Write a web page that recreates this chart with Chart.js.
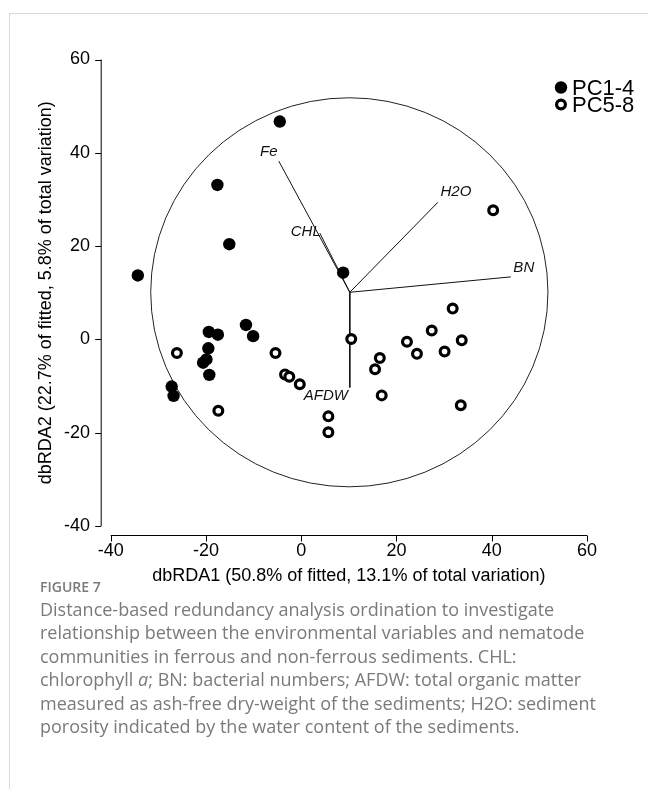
<!DOCTYPE html>
<html>
<head>
<meta charset="utf-8">
<script src="https://cdn.jsdelivr.net/npm/chart.js@4.4.1/dist/chart.umd.min.js"></script>
<style>
  html, body { margin: 0; padding: 0; background: #fff; }
  body { width: 648px; height: 789px; position: relative; overflow: hidden; }
  #frame { position: absolute; left: 9px; top: 13px; right: 0; bottom: 0;
           border-top: 1px solid #d9d9d9; border-left: 1px solid #d9d9d9; }
  #grafico { position: absolute; left: 0; top: 0; }
  #caption { position: absolute; left: 40px; top: 578px; width: 605px;
             font-family: "Open Sans", sans-serif; color: #7a7a7a; }
  #caption .fig { font-size: 14px; line-height: 18px; font-weight: 600; }
  #caption .txt { font-size: 18px; line-height: 23.4px; margin-top: 2px; white-space: nowrap; }
</style>
</head>
<body>
<div id="frame"></div>
<canvas id="grafico" width="648" height="600"></canvas>
<div id="caption">
  <div class="fig">FIGURE 7</div>
  <div class="txt">Distance-based redundancy analysis ordination to investigate<br>relationship between the environmental variables and nematode<br>communities in ferrous and non-ferrous sediments. CHL:<br>chlorophyll <i>a</i>; BN: bacterial numbers; AFDW: total organic matter<br>measured as ash-free dry-weight of the sediments; H2O: sediment<br>porosity indicated by the water content of the sediments.</div>
</div>
<script>
// 1. Datos
const pc14X = [-4.5, -17.6, -15.1, -34.3, 8.8, -19.4, -17.5, -11.6, -10.1, -19.5, -19.9, -20.6, -19.3, -27.2, -26.8];
const pc14Y = [46.7, 33.1, 20.4, 13.7, 14.3, 1.6, 1.0, 3.1, 0.7, -1.9, -4.3, -5.0, -7.6, -10.1, -12.1];

const pc58X = [-26.1, -17.4, -5.4, -3.4, -2.5, -0.3, 5.7, 5.7, 10.5, 40.3, 31.8, 27.4, 22.2, 33.7, 24.3, 30.1, 16.5, 15.5, 16.9, 33.5];
const pc58Y = [-2.9, -15.3, -2.9, -7.5, -8.0, -9.6, -16.5, -19.9, 0.1, 27.7, 6.6, 1.9, -0.5, -0.2, -3.1, -2.6, -4.0, -6.4, -12.0, -14.1];

// vectores de las variables ambientales (desde el origen)
const vectorNames = ['Fe', 'CHL', 'H2O', 'BN', 'AFDW'];
const vectorX = [-4.7, 3.9, 28.7, 44.0, 10.2];
const vectorY = [38.2, 22.8, 29.4, 13.4, -10.3];
const origin = [10.2, 10.1];

// circulo de correlacion
const circleCenter = [10.1, 10.1];
const circleRadius = 41.7;

const xTicks = [-40, -20, 0, 20, 40, 60];
const yTicks = [-40, -20, 0, 20, 40, 60];
const seriesNames = ['PC1-4', 'PC5-8'];

const ctx = document.getElementById('grafico').getContext('2d');

// 2. Datasets
const datasets = [
  {
    label: seriesNames[0],
    data: pc14X.map((x, i) => ({ x: x, y: pc14Y[i] })),
    pointRadius: 6.2,
    pointBackgroundColor: '#000',
    pointBorderWidth: 0,
    showLine: false,
    order: 1
  },
  {
    label: seriesNames[1],
    data: pc58X.map((x, i) => ({ x: x, y: pc58Y[i] })),
    pointRadius: 4.4,
    pointBackgroundColor: '#fff',
    pointBorderColor: '#000',
    pointBorderWidth: 3.2,
    showLine: false,
    order: 0
  }
];

vectorNames.forEach((n, i) => {
  datasets.push({
    label: n,
    data: [{ x: origin[0], y: origin[1] }, { x: vectorX[i], y: vectorY[i] }],
    showLine: true,
    borderColor: '#111',
    borderWidth: 1,
    pointRadius: 0,
    order: 5
  });
});

// desplazamientos de las etiquetas de los vectores (px)
const labelOffsets = {
  Fe: [-10, -9],
  CHL: [-14, -1],
  H2O: [18, -10],
  BN: [13, -9],
  AFDW: [-24, 8]
};

// 3. Plugin: ejes estilo R, circulo, etiquetas y leyenda
const extras = {
  id: 'extras',
  beforeDatasetsDraw(chart) {
    const c = chart.ctx;
    const xs = chart.scales.x, ys = chart.scales.y;
    c.save();
    // circulo
    const cx = xs.getPixelForValue(circleCenter[0]);
    const cy = ys.getPixelForValue(circleCenter[1]);
    const rx = Math.abs(xs.getPixelForValue(circleCenter[0] + circleRadius) - cx);
    const ry = Math.abs(ys.getPixelForValue(circleCenter[1] + circleRadius) - cy);
    c.strokeStyle = '#222';
    c.lineWidth = 1;
    c.beginPath();
    c.ellipse(cx, cy, rx, ry, 0, 0, Math.PI * 2);
    c.stroke();

    // eje y
    c.strokeStyle = '#000';
    const ax = chart.chartArea.left - 9.5;
    c.beginPath();
    c.moveTo(ax, ys.getPixelForValue(yTicks[0]));
    c.lineTo(ax, ys.getPixelForValue(yTicks[yTicks.length - 1]));
    yTicks.forEach(v => {
      const py = Math.round(ys.getPixelForValue(v)) + 0.5;
      c.moveTo(ax, py);
      c.lineTo(ax - 6, py);
    });
    c.stroke();

    // eje x
    const ay = chart.chartArea.bottom + 9.5;
    c.beginPath();
    c.moveTo(xs.getPixelForValue(xTicks[0]), ay);
    c.lineTo(xs.getPixelForValue(xTicks[xTicks.length - 1]), ay);
    xTicks.forEach(v => {
      const px = Math.round(xs.getPixelForValue(v)) + 0.5;
      c.moveTo(px, ay);
      c.lineTo(px, ay + 6);
    });
    c.stroke();
    c.restore();
  },
  afterDatasetsDraw(chart) {
    const c = chart.ctx;
    const xs = chart.scales.x, ys = chart.scales.y;
    c.save();
    // etiquetas de vectores
    c.font = 'italic 15px "Liberation Sans", Arial, sans-serif';
    c.fillStyle = '#111';
    c.textAlign = 'center';
    c.textBaseline = 'middle';
    vectorNames.forEach((n, i) => {
      const px = xs.getPixelForValue(vectorX[i]) + labelOffsets[n][0];
      const py = ys.getPixelForValue(vectorY[i]) + labelOffsets[n][1];
      c.fillText(n, px, py);
    });

    // leyenda
    const lx = 561, ly = [87.5, 104.5];
    c.font = '22px "Liberation Sans", Arial, sans-serif';
    c.textAlign = 'left';
    c.fillStyle = '#000';
    [0, 1].forEach(k => {
      const ds = chart.data.datasets[k];
      c.beginPath();
      c.arc(lx, ly[k], ds.pointRadius, 0, Math.PI * 2);
      c.fillStyle = ds.pointBackgroundColor;
      c.fill();
      if (ds.pointBorderWidth) {
        c.lineWidth = ds.pointBorderWidth;
        c.strokeStyle = ds.pointBorderColor;
        c.stroke();
      }
      c.fillStyle = '#000';
      c.fillText(ds.label, lx + 11, ly[k] + 1);
    });
    c.restore();
  }
};

// 4. Grafico
const fuente = '"Liberation Sans", Arial, sans-serif';
const grafico = new Chart(ctx, {
  type: 'scatter',
  data: { datasets: datasets },
  options: {
    responsive: false,
    animation: false,
    layout: { padding: { top: 59.5, right: 61, bottom: 0, left: 0 } },
    plugins: { legend: { display: false }, tooltip: { enabled: false } },
    scales: {
      x: {
        type: 'linear',
        min: -40, max: 60,
        afterBuildTicks: s => { s.ticks = xTicks.map(v => ({ value: v })); },
        afterFit: s => { s.height = 74; },
        grid: { display: false, drawTicks: false },
        border: { display: false },
        ticks: { color: '#000', padding: 14, font: { family: fuente, size: 18 } },
        title: {
          display: true,
          text: 'dbRDA1 (50.8% of fitted, 13.1% of total variation)',
          color: '#000',
          font: { family: fuente, size: 18 },
          padding: { top: 0, bottom: 13 }
        }
      },
      y: {
        type: 'linear',
        min: -40, max: 60,
        afterBuildTicks: s => { s.ticks = yTicks.map(v => ({ value: v })); },
        afterFit: s => { s.width = 110.7; },
        grid: { display: false, drawTicks: false },
        border: { display: false },
        ticks: { color: '#000', padding: 20.7, font: { family: fuente, size: 18 } },
        title: {
          display: true,
          text: 'dbRDA2 (22.7% of fitted, 5.8% of total variation)',
          color: '#000',
          font: { family: fuente, size: 18 },
          padding: { top: 35, bottom: 0 }
        }
      }
    }
  },
  plugins: [extras]
});
</script>
</body>
</html>
